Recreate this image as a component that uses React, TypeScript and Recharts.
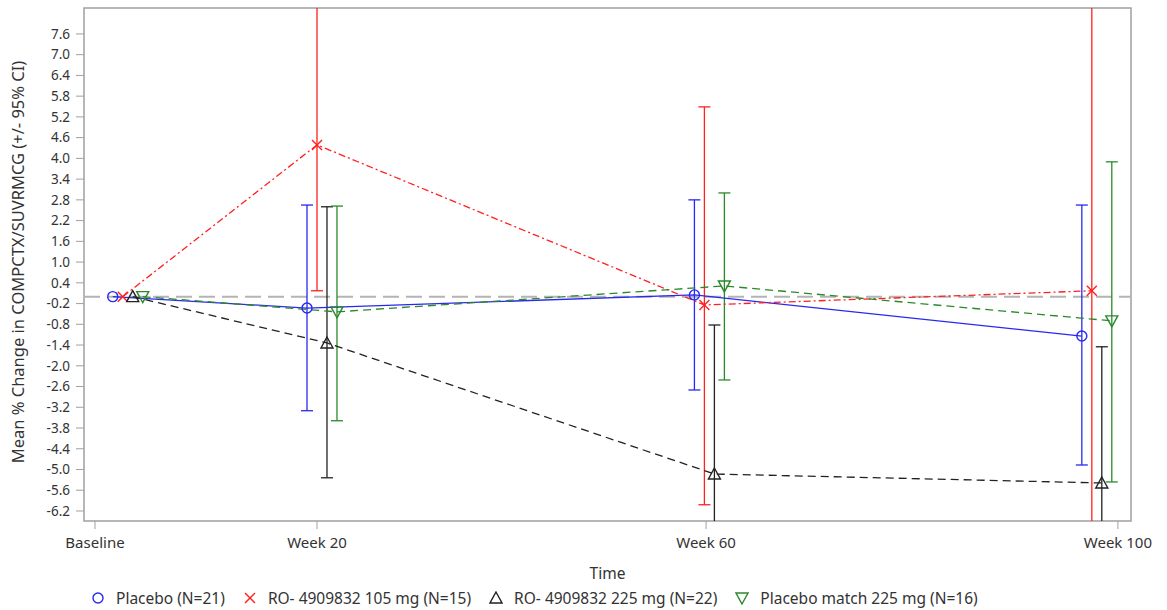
import { LineChart, Line, XAxis, YAxis, ReferenceLine, ReferenceArea } from 'recharts'

const FONT = '"Noto Sans", "DejaVu Sans", sans-serif'

const visitLabels = ['Baseline', 'Week 20', 'Week 60', 'Week 100']
const visitTicks = [0, 20, 55.05, 92.15]
const visitCenters = [2.5, 20, 54.9, 89.8]

const yTicks = [
  -6.2, -5.6, -5.0, -4.4, -3.8, -3.2, -2.6, -2.0, -1.4, -0.8, -0.2,
  0.4, 1.0, 1.6, 2.2, 2.8, 3.4, 4.0, 4.6, 5.2, 5.8, 6.4, 7.0, 7.6,
]

// mean % change and 95% CI at each visit (no CI at baseline)
const placeboMean = [0, -0.33, 0.05, -1.14]
const placeboLow = [0, -3.3, -2.7, -4.87]
const placeboHigh = [0, 2.65, 2.8, 2.65]

const ro105Mean = [0, 4.39, -0.24, 0.17]
const ro105Low = [0, 0.17, -6.02, -7.4]
const ro105High = [0, 8.9, 5.49, 9.6]

const ro225Mean = [0, -1.34, -5.13, -5.39]
const ro225Low = [0, -5.24, -9.4, -9.6]
const ro225High = [0, 2.6, -0.82, -1.45]

const matchMean = [0, -0.44, 0.31, -0.7]
const matchLow = [0, -3.59, -2.41, -5.36]
const matchHigh = [0, 2.62, 3.0, 3.9]

const BLUE = '#2828f0'
const RED = '#ff2020'
const BLACK = '#222222'
const GREEN = '#2a8a2a'

type Kind = 'circle' | 'cross' | 'triangle' | 'down'

const series = [
  { name: 'Placebo (N=21)', kind: 'circle' as Kind, color: BLUE, dash: undefined, offset: -0.9, mean: placeboMean, low: placeboLow, high: placeboHigh },
  { name: 'RO- 4909832 105 mg (N=15)', kind: 'cross' as Kind, color: RED, dash: '7 3 2 3', offset: 0, mean: ro105Mean, low: ro105Low, high: ro105High },
  { name: 'RO- 4909832 225 mg (N=22)', kind: 'triangle' as Kind, color: BLACK, dash: '8 5', offset: 0.9, mean: ro225Mean, low: ro225Low, high: ro225High },
  { name: 'Placebo match 225 mg (N=16)', kind: 'down' as Kind, color: GREEN, dash: '8 5', offset: 1.8, mean: matchMean, low: matchLow, high: matchHigh },
]

function Marker({ cx, cy, kind, color }: { cx: number; cy: number; kind: Kind; color: string }) {
  if (cx == null || cy == null) return null
  const sw = 1.4
  if (kind === 'circle') return <circle cx={cx} cy={cy} r={5} fill="none" stroke={color} strokeWidth={sw} />
  if (kind === 'cross')
    return (
      <g stroke={color} strokeWidth={sw}>
        <line x1={cx - 5} y1={cy - 5} x2={cx + 5} y2={cy + 5} />
        <line x1={cx - 5} y1={cy + 5} x2={cx + 5} y2={cy - 5} />
      </g>
    )
  if (kind === 'triangle')
    return <polygon points={`${cx},${cy - 6} ${cx + 6},${cy + 5} ${cx - 6},${cy + 5}`} fill="none" stroke={color} strokeWidth={sw} />
  return <polygon points={`${cx},${cy + 6} ${cx + 6},${cy - 5} ${cx - 6},${cy - 5}`} fill="none" stroke={color} strokeWidth={sw} />
}

function LegendIcon({ kind, color }: { kind: Kind; color: string }) {
  return (
    <svg width={14} height={14} style={{ marginRight: 11 }}>
      <Marker cx={7} cy={7} kind={kind} color={color} />
    </svg>
  )
}

function YTitle() {
  const cx = 17
  const cy = 262
  return (
    <text x={cx} y={cy} transform={`rotate(-90 ${cx} ${cy})`} textAnchor="middle" dominantBaseline="central"
      fill="#333" fontSize={16.5} fontFamily={FONT}>
      Mean % Change in COMPCTX/SUVRMCG (+/- 95% CI)
    </text>
  )
}

export default function App() {
  return (
    <div style={{ position: 'relative', width: 1167, height: 610, fontFamily: FONT }}>
      <style>{'body { margin: 0; }'}</style>
      <LineChart width={1167} height={610} margin={{ top: 8, right: 36, left: 0, bottom: 0 }}>
        <XAxis
          type="number"
          dataKey="x"
          domain={[-0.99, 93.33]}
          ticks={visitTicks}
          tickFormatter={(v: number) => visitLabels[visitTicks.indexOf(v)] ?? ''}
          height={89}
          axisLine={false}
          tickLine={{ stroke: '#a0a0a0' }}
          tickSize={8}
          tickMargin={8}
          tick={{ fill: '#333', fontSize: 15, fontFamily: FONT }}
          allowDataOverflow
          label={{ value: 'Time', position: 'insideBottom', offset: 31, fill: '#333', fontSize: 15.5, fontFamily: FONT }}
        />
        <YAxis
          type="number"
          domain={[-6.49, 8.35]}
          ticks={yTicks}
          tickFormatter={(v: number) => v.toFixed(1)}
          width={84}
          axisLine={false}
          tickLine={{ stroke: '#a0a0a0' }}
          tickSize={8}
          tickMargin={6}
          tick={{ fill: '#333', fontSize: 13.5, fontFamily: FONT }}
          allowDataOverflow
          interval={0}
          label={<YTitle />}
        />
        <ReferenceArea x1={-0.99} x2={93.33} y1={-6.49} y2={8.35} fill="none" stroke="#a0a0a0" strokeWidth={1.5} />
        <ReferenceLine y={0} stroke="#b4b4b4" strokeWidth={2} strokeDasharray="16 7" />
        {series.flatMap((s) =>
          visitCenters.slice(1).map((c, j) => {
            const i = j + 1
            return (
              <Line
                key={`${s.name}-ci${i}`}
                data={[{ x: c + s.offset, y: s.low[i] }, { x: c + s.offset, y: s.high[i] }]}
                dataKey="y"
                type="linear"
                stroke={s.color}
                strokeWidth={1.3}
                isAnimationActive={false}
                activeDot={false}
                dot={(p: any) =>
                  p.cx == null ? <g key={`c${p.index}`} /> :
                    <line key={`c${p.index}`} x1={p.cx - 6} x2={p.cx + 6} y1={p.cy} y2={p.cy} stroke={s.color} strokeWidth={1.3} />}
              />
            )
          })
        )}
        {series.map((s) => (
          <Line
            key={s.name}
            data={visitCenters.map((c, i) => ({ x: c + s.offset, y: s.mean[i] }))}
            dataKey="y"
            type="linear"
            stroke={s.color}
            strokeWidth={1.3}
            strokeDasharray={s.dash}
            isAnimationActive={false}
            activeDot={false}
            dot={(p: any) => <Marker key={`d${p.index}`} cx={p.cx} cy={p.cy} kind={s.kind} color={s.color} />}
          />
        ))}
      </LineChart>
      <div style={{ position: 'absolute', top: 587, left: 91, display: 'flex', alignItems: 'center', fontSize: 15.5, color: '#333', whiteSpace: 'nowrap' }}>
        {series.map((s) => (
          <div key={s.name} style={{ display: 'flex', alignItems: 'center', marginRight: 18 }}>
            <LegendIcon kind={s.kind} color={s.color} />
            <span>{s.name}</span>
          </div>
        ))}
      </div>
    </div>
  )
}
